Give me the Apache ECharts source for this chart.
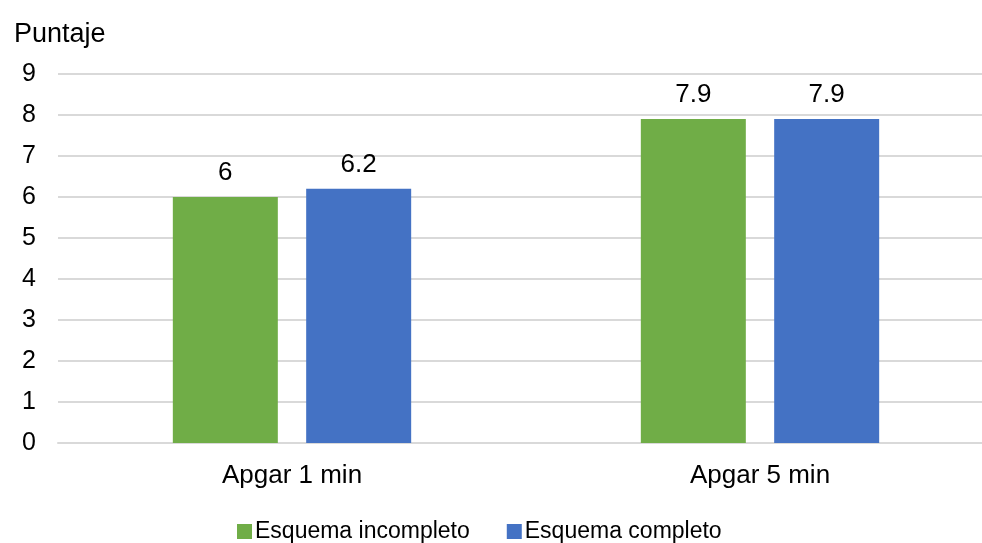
<!DOCTYPE html>
<html>
<head>
<meta charset="utf-8">
<script src="https://cdn.jsdelivr.net/npm/echarts@6/dist/echarts.min.js"></script>
<style>
  html, body { margin: 0; padding: 0; background: #ffffff; }
  #chart { width: 982px; height: 543px; }
</style>
</head>
<body>
<div id="chart"></div>
<script>
// Apgar scores by vaccination scheme
const categories = ['Apgar 1 min', 'Apgar 5 min'];
const seriesNames = ['Esquema incompleto', 'Esquema completo'];
const incompleto = [6, 7.9];
const completo = [6.2, 7.9];
const yTicks = { min: 0, max: 9, interval: 1 };
const axisTitle = 'Puntaje';

const FONT = '"Liberation Sans", Arial, sans-serif';
const chart = echarts.init(document.getElementById('chart'), null, { renderer: 'canvas' });

const labelStyle = {
  show: true,
  position: 'top',
  distance: 11,
  color: '#000000',
  fontFamily: FONT,
  fontSize: 26
};

chart.setOption({
  animation: false,
  backgroundColor: '#ffffff',
  title: {
    text: axisTitle,
    left: 9,
    top: 16,
    textStyle: { fontFamily: FONT, fontSize: 27, fontWeight: 'normal', color: '#000000' }
  },
  legend: {
    data: seriesNames,
    bottom: -5,
    left: 232,
    icon: 'rect',
    itemWidth: 15,
    itemHeight: 15,
    itemGap: 37,
    textStyle: { fontFamily: FONT, fontSize: 23, color: '#000000', padding: [0, 0, 0, -2] }
  },
  grid: { left: 58, top: 74, bottom: 100, width: 936, outerBoundsMode: 'none', containLabel: false },
  xAxis: {
    type: 'category',
    data: categories,
    axisLine: { show: true, lineStyle: { color: '#D9D9D9', width: 2 } },
    axisTick: { show: false },
    axisLabel: { color: '#000000', fontFamily: FONT, fontSize: 26, margin: 20 }
  },
  yAxis: {
    type: 'value',
    min: yTicks.min,
    max: yTicks.max,
    interval: yTicks.interval,
    axisLine: { show: false },
    axisTick: { show: false },
    splitLine: { lineStyle: { color: '#D9D9D9', width: 2 } },
    axisLabel: { color: '#000000', fontFamily: FONT, fontSize: 25, margin: 22 }
  },
  series: [
    {
      name: seriesNames[0],
      type: 'bar',
      data: incompleto,
      barWidth: 105,
      barGap: '27%',
      itemStyle: { color: '#70AD47' },
      label: labelStyle
    },
    {
      name: seriesNames[1],
      type: 'bar',
      data: completo,
      barWidth: 105,
      barGap: '27%',
      itemStyle: { color: '#4472C4' },
      label: labelStyle
    }
  ]
});
</script>
</body>
</html>
